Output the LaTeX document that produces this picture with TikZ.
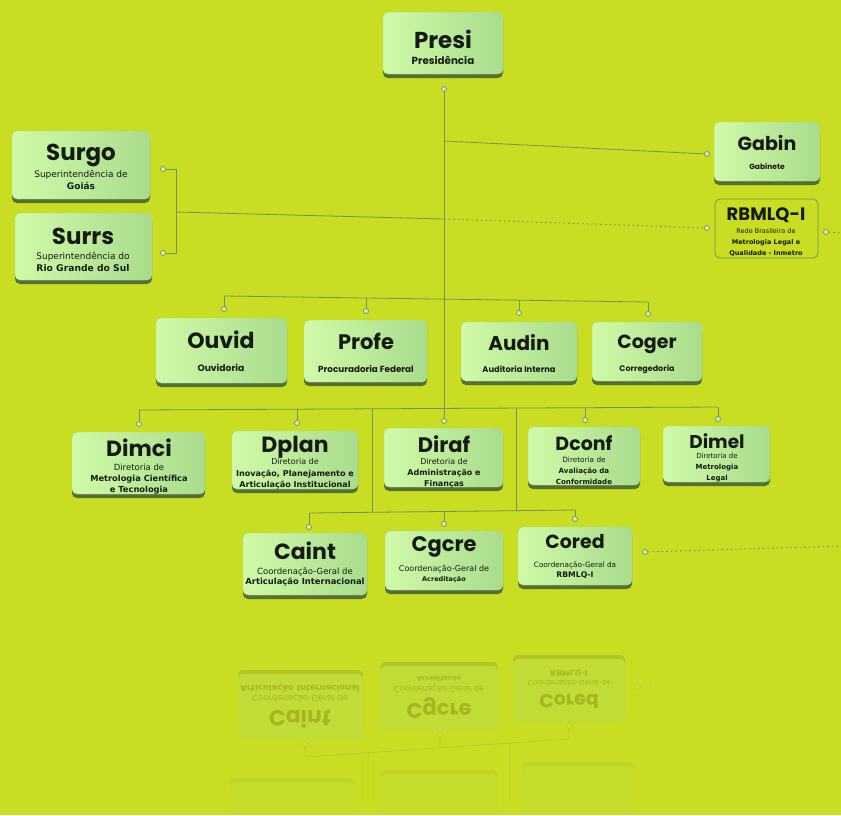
\documentclass[tikz,border=0pt]{standalone}
\usepackage{fontspec}
\setmainfont{DejaVu Sans}
\newfontfamily\titlefont{Poppins}
\newfontfamily\dv{DejaVu Sans}
\usetikzlibrary{shadows}
\definecolor{bgc}{RGB}{201,221,34}
\definecolor{boxL}{RGB}{208,250,168}
\definecolor{boxR}{RGB}{168,220,140}
\definecolor{boxS}{RGB}{84,112,52}
\definecolor{lineC}{RGB}{118,146,96}
\definecolor{dotF}{RGB}{205,242,175}
\definecolor{txt}{RGB}{22,26,20}
\tikzset{
  obox/.style={rounded corners=5pt, draw={rgb,255:red,170;green,215;blue,140}, line width=0.4pt,
    left color=boxL, right color=boxR,
    drop shadow={shadow xshift=0pt, shadow yshift=-4pt, fill=boxS, opacity=1}},
  rbox/.style={rounded corners=5pt, fill=boxR,
    drop shadow={shadow xshift=0pt, shadow yshift=4pt, fill=boxS, opacity=1}},
  outbox/.style={rounded corners=5pt, draw=lineC, line width=0.8pt},
  dotn/.style={circle, inner sep=0pt, minimum size=5pt, draw=lineC, fill=dotF, line width=0.7pt},
  conn/.style={draw=lineC, line width=0.8pt},
  dotl/.style={draw=lineC, line width=0.9pt, dash pattern=on 1.6pt off 3pt},
}
% [style] x1 y1 x2 name y2
\newcommand\mkbox[6][obox]{\node[#1, inner sep=0pt, minimum width={(#4-#2)*1pt}, minimum height={(#6-#3)*1pt}] (#5) at ({(#2+#4)/2},{(#3+#6)/2}) {};}
\newcommand\ttl[5]{\node[inner sep=0pt, text=txt, font=\titlefont\bfseries\fontsize{#4}{#4}\selectfont] (#1) at (#2,#3) {#5};}
\newcommand\subt[5]{\node[inner sep=0pt, text=txt, align=center, font=\titlefont\bfseries\fontsize{#4}{#4}\selectfont] (#1) at (#2,#3) {#5};}
% name x y regsize baselineskip text
\newcommand\subm[6]{\node[inner sep=0pt, text=txt, align=center, font=\dv\fontsize{#4}{#5}\selectfont] (#1) at (#2,#3) {#6};}
\newcommand\bl[3]{{\bfseries\fontsize{#1}{#2}\selectfont #3}}
\begin{document}
\begin{tikzpicture}[x=1pt,y=-1pt]
\fill[bgc] (0,0) rectangle (841,815);
\useasboundingbox (0,0) rectangle (841,815);

% ---------- reflection (faint) ----------
\begin{scope}[transparency group, opacity=0.08]
  \mkbox[rbox]{230}{782}{355}{pdplan}{830}
  \mkbox[rbox]{380}{774}{497}{pdiraf}{830}
  \mkbox[rbox]{522}{766}{635}{pdconf}{815}
\end{scope}
\begin{scope}[transparency group, opacity=0.2]
  \mkbox[rbox]{238}{674}{363}{rcaint}{740}
  \mkbox[rbox]{380}{666}{498}{rcgcre}{730}
  \mkbox[rbox]{513}{659}{625}{rcored}{722}
  \node[yscale=-1, inner sep=0pt, text=txt, font=\titlefont\bfseries\fontsize{22}{22}\selectfont] (rcaint-t) at (300,719) {Caint};
  \node[yscale=-1, inner sep=0pt, text=txt, font=\titlefont\bfseries\fontsize{21}{21}\selectfont] (rcgcre-t) at (439,708) {Cgcre};
  \node[yscale=-1, inner sep=0pt, text=txt, font=\titlefont\bfseries\fontsize{19}{19}\selectfont] (rcored-t) at (569,701) {Cored};
  \node[yscale=-1, inner sep=0pt, text=txt, align=center, font=\dv\fontsize{8.5}{10}\selectfont] (rcaint-s) at (300,693) {Coordenação-Geral de\\\bl{8.4}{10}{Articulação Internacional}};
  \node[yscale=-1, inner sep=0pt, text=txt, align=center, font=\dv\fontsize{8}{10}\selectfont] (rcgcre-s) at (439,684) {Coordenação-Geral de\\\bl{6.5}{10}{Acreditação}};
  \node[yscale=-1, inner sep=0pt, text=txt, align=center, font=\dv\fontsize{7.3}{10}\selectfont] (rcored-s) at (569,678) {Coordenação-Geral da\\\bl{7.7}{10}{RBMLQ-I}};
  \node[dotn] (rd1) at (305,744) {};
  \node[dotn] (rd2) at (440,735) {};
  \node[dotn] (rd3) at (569,726) {};
  \node[dotn] (rd4) at (638,687) {};
  \coordinate (rj1) at (305,757); \coordinate (rj2) at (440,749);
  \coordinate (rj3) at (569,739); \coordinate (rj4) at (368,753);
  \coordinate (rj5) at (510,743); \coordinate (rj6) at (368,800);
  \coordinate (rj7) at (510,800); \coordinate (rj8) at (660,686);
  \draw[conn] (rd1) -- (rj1) -- (rj3) -- (rd3);
  \draw[conn] (rd2) -- (rj2);
  \draw[conn] (rj4) -- (rj6);
  \draw[conn] (rj5) -- (rj7);
  \draw[dotl] (rd4) -- (rj8);
\end{scope}

% ---------- boxes ----------
\mkbox{383}{12}{503}{presi}{74}
\ttl{presi-t}{443}{39}{23}{Presi}
\subt{presi-s}{443}{60}{10.3}{Presidência}

\mkbox{12}{131}{150}{surgo}{199}
\ttl{surgo-t}{81}{155}{23}{Surgo}
\subm{surgo-s}{81}{180}{9}{12}{Superintendência de\\\bl{9}{12}{Goiás}}

\mkbox{15}{213}{152}{surrs}{280}
\ttl{surrs-t}{83}{236}{23}{Surrs}
\subm{surrs-s}{83}{262}{9}{12}{Superintendência do\\\bl{9.2}{12}{Rio Grande do Sul}}

\mkbox{714}{122}{820}{gabin}{181}
\ttl{gabin-t}{767}{143}{19}{Gabin}
\subt{gabin-s}{767}{167}{7.5}{Gabinete}

\mkbox[outbox]{715}{199}{818}{rbm}{258}
\ttl{rbm-t}{766}{215}{18}{RBMLQ-I}
\subm{rbm-s}{766}{242}{6.5}{11}{Rede Brasileira de\\\bl{6.5}{11}{Metrologia Legal e}\\\bl{6.5}{11}{Qualidade - Inmetro}}

\mkbox{156}{318}{287}{ouvid}{383}
\ttl{ouvid-t}{221}{340}{22}{Ouvid}
\subt{ouvid-s}{221}{368}{9.2}{Ouvidoria}

\mkbox{304}{320}{427}{profe}{382}
\ttl{profe-t}{366}{341}{21}{Profe}
\subt{profe-s}{366}{369}{8.8}{Procuradoria Federal}

\mkbox{461}{322}{577}{audin}{381}
\ttl{audin-t}{519}{343}{20}{Audin}
\subt{audin-s}{519}{369}{8.3}{Auditoria Interna}

\mkbox{592}{322}{702}{coger}{381}
\ttl{coger-t}{647}{344}{19}{Coger}
\subt{coger-s}{647}{369}{8}{Corregedoria}

\mkbox{72}{432}{205}{dimci}{494}
\ttl{dimci-t}{139}{448}{22}{Dimci}
\subm{dimci-s}{139}{479}{8.5}{11}{Diretoria de\\\bl{8.3}{11}{Metrologia Científica}\\\bl{8.3}{11}{e Tecnologia}}

\mkbox{232}{431}{358}{dplan}{489}
\ttl{dplan-t}{295}{447}{22}{Dplan}
\subm{dplan-s}{295}{474}{8}{11.5}{Diretoria de\\\bl{8.1}{11.5}{Inovação, Planejamento e}\\\bl{8.1}{11.5}{Articulação Institucional}}

\mkbox{384}{428}{503}{diraf}{487}
\ttl{diraf-t}{444}{444}{21}{Diraf}
\subm{diraf-s}{444}{473}{8}{11}{Diretoria de\\\bl{8}{11}{Administração e}\\\bl{8}{11}{Finanças}}

\mkbox{528}{427}{640}{dconf}{485}
\ttl{dconf-t}{584}{443}{19}{Dconf}
\subm{dconf-s}{584}{471}{7.3}{11}{Diretoria de\\\bl{7.1}{11}{Avaliação da}\\\bl{7.1}{11}{Conformidade}}

\mkbox{663}{426}{770}{dimel}{482}
\ttl{dimel-t}{717}{441}{18.5}{Dimel}
\subm{dimel-s}{717}{468}{7}{11}{Diretoria de\\\bl{7}{11}{Metrologia}\\\bl{7}{11}{Legal}}

\mkbox{243}{533}{367}{caint}{595}
\ttl{caint-t}{305}{551}{22}{Caint}
\subm{caint-s}{305}{577}{8.5}{10}{Coordenação-Geral de\\\bl{8.4}{10}{Articulação Internacional}}

\mkbox{385}{531}{503}{cgcre}{590}
\ttl{cgcre-t}{444}{547}{21}{Cgcre}
\subm{cgcre-s}{444}{574}{8}{10}{Coordenação-Geral de\\\bl{6.5}{10}{Acreditação}}

\mkbox{518}{527}{632}{cored}{585}
\ttl{cored-t}{575}{542}{19}{Cored}
\subm{cored-s}{575}{570}{7.3}{10}{Coordenação-Geral da\\\bl{7.7}{10}{RBMLQ-I}}

% ---------- dots ----------
\node[dotn] (d-presi) at (444,89) {};
\node[dotn] (d-gabin) at (707,154) {};
\node[dotn] (d-rbm) at (707,228) {};
\node[dotn] (d-rbm2) at (826,232) {};
\node[dotn] (d-surgo) at (163,169) {};
\node[dotn] (d-surrs) at (163,253) {};
\node[dotn] (d-ouvid) at (224,309) {};
\node[dotn] (d-profe) at (366,311) {};
\node[dotn] (d-audin) at (519,313) {};
\node[dotn] (d-coger) at (648,314) {};
\node[dotn] (d-dimci) at (139,424) {};
\node[dotn] (d-dplan) at (297,423) {};
\node[dotn] (d-diraf) at (444,421) {};
\node[dotn] (d-dconf) at (585,420) {};
\node[dotn] (d-dimel) at (718,419) {};
\node[dotn] (d-caint) at (309,527) {};
\node[dotn] (d-cgcre) at (444,524) {};
\node[dotn] (d-cored) at (575,519) {};
\node[dotn] (d-cored2) at (645,552) {};

% ---------- junctions ----------
\coordinate (j-gab) at (444,141);
\coordinate (j-mid) at (444,219);
\coordinate (j-br) at (176,212);
\coordinate (b1) at (176,169);
\coordinate (b2) at (176,253);
\coordinate (e1) at (841,233);
\coordinate (e2) at (841,546);
\coordinate (r2-ouvid) at (224,296);
\coordinate (r2-profe) at (366,298);
\coordinate (r2-audin) at (519,300);
\coordinate (r2-coger) at (648,302);
\coordinate (r3-dimci) at (139,410);
\coordinate (r3-dplan) at (297,409);
\coordinate (r3-a) at (372,409);
\coordinate (r3-b) at (516,408);
\coordinate (r3-dconf) at (585,408);
\coordinate (r3-dimel) at (718,407);
\coordinate (r4-caint) at (309,513);
\coordinate (r4-a) at (372,512);
\coordinate (r4-cgcre) at (444,511);
\coordinate (r4-b) at (516,511);
\coordinate (r4-cored) at (575,510);

% ---------- connectors ----------
\draw[conn] (d-presi) -- (d-diraf);
\draw[conn] (j-gab) -- (d-gabin);
\draw[conn] (j-mid) -- (j-br);
\draw[conn] (d-surgo) -- (b1) -- (b2) -- (d-surrs);
\draw[dotl] (j-mid) -- (d-rbm);
\draw[dotl] (d-rbm2) -- (e1);
\draw[conn] (r2-ouvid) -- (r2-coger);
\draw[conn] (r2-ouvid) -- (d-ouvid);
\draw[conn] (r2-profe) -- (d-profe);
\draw[conn] (r2-audin) -- (d-audin);
\draw[conn] (r2-coger) -- (d-coger);
\draw[conn] (r3-dimci) -- (r3-dimel);
\draw[conn] (r3-dimci) -- (d-dimci);
\draw[conn] (r3-dplan) -- (d-dplan);
\draw[conn] (r3-dconf) -- (d-dconf);
\draw[conn] (r3-dimel) -- (d-dimel);
\draw[conn] (r3-a) -- (r4-a);
\draw[conn] (r3-b) -- (r4-b);
\draw[conn] (r4-caint) -- (r4-cored);
\draw[conn] (r4-caint) -- (d-caint);
\draw[conn] (r4-cgcre) -- (d-cgcre);
\draw[conn] (r4-cored) -- (d-cored);
\draw[dotl] (d-cored2) -- (e2);
\end{tikzpicture}
\end{document}
